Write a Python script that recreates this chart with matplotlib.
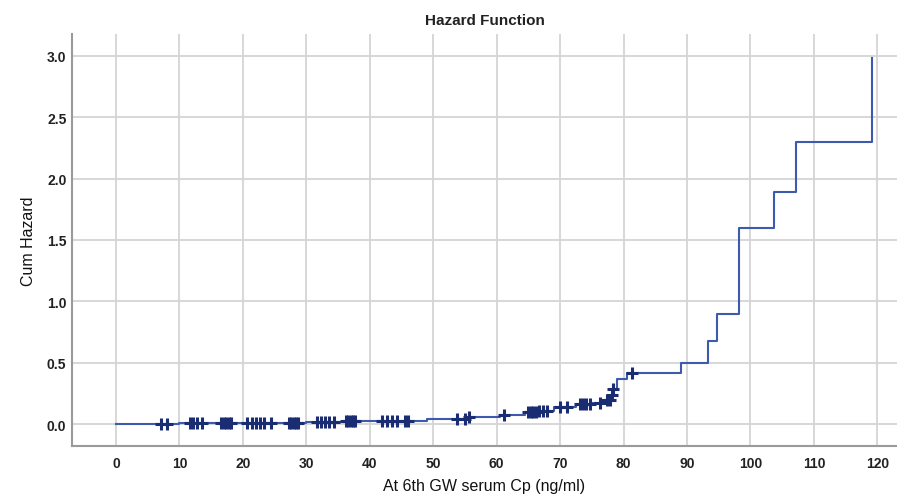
import numpy as np
import matplotlib
matplotlib.use("Agg")
import matplotlib.pyplot as plt

plt.rcParams['font.family'] = ['Liberation Sans', 'DejaVu Sans']

# event times and cumulative hazard after each event
event_times = [0.0, 10.0, 20.0, 30.0, 36.0, 49.0, 55.5, 60.5, 64.5, 66.5,
               69.0, 72.5, 75.0, 77.0, 78.0, 78.3, 78.9, 80.5, 89.1, 93.3,
               94.7, 98.2, 103.7, 107.2, 119.2]
cum_hazard = [0.0, 0.005, 0.010, 0.015, 0.025, 0.045, 0.055, 0.075, 0.095, 0.11,
              0.135, 0.16, 0.175, 0.195, 0.24, 0.285, 0.367, 0.415, 0.495, 0.68,
              0.90, 1.597, 1.888, 2.296, 2.983]

# censored observations
censor_times = [7.1, 8.0, 11.6, 12.2, 12.8, 13.5, 16.6, 17.0, 17.4, 17.8, 18.1,
                20.6, 21.4, 22.0, 22.7, 23.3, 24.5, 27.2, 27.6, 28.0, 28.4, 28.7,
                31.6, 32.3, 33.0, 33.6, 34.3, 36.2, 36.6, 37.0, 37.4, 37.7,
                41.9, 42.7, 43.5, 44.3, 45.6, 46.0, 53.7, 55.0, 55.6, 61.1,
                65.0, 65.4, 65.8, 66.2, 66.7, 67.3, 68.0, 70.0, 71.1,
                73.2, 73.6, 74.0, 74.7, 76.3, 77.4, 77.9, 78.1, 78.3, 81.4]

xticks = list(range(0, 121, 10))
yticks = [0.0, 0.5, 1.0, 1.5, 2.0, 2.5, 3.0]

et = np.array(event_times)
ch = np.array(cum_hazard)
ct = np.array(censor_times)
cy = ch[np.searchsorted(et, ct, side='right') - 1]

fig = plt.figure(figsize=(8.97, 5.02), dpi=100)
ax = fig.add_axes([0.0803, 0.1096, 0.9197, 0.8204])

ax.step(et, ch, where='post', color='#3d5aad', lw=1.5, zorder=3)
ax.plot(ct, cy, ls='none', marker='+', ms=9, mew=2.2, color='#1b2d72', zorder=4)

ax.set_xlim(-6.94, 123.1)
ax.set_ylim(-0.179, 3.178)
ax.set_xticks(xticks)
ax.set_yticks(yticks)
ax.set_yticklabels([f"{v:.1f}" for v in yticks])
ax.grid(True, color='#d4d4d4', lw=1.3)
ax.set_axisbelow(True)
for s in ['top', 'right']:
    ax.spines[s].set_visible(False)
for s in ['left', 'bottom']:
    ax.spines[s].set_color('#9a9a9a')
    ax.spines[s].set_linewidth(1.5)
ax.tick_params(axis='y', length=0, pad=4, labelsize=10, colors='#222222')
ax.tick_params(axis='x', length=0, pad=7, labelsize=10, colors='#222222')
for lab in ax.get_xticklabels() + ax.get_yticklabels():
    lab.set_fontweight('bold')

ax.set_title('Hazard Function', fontsize=11, fontweight='bold', pad=7, color='#222222')
ax.set_xlabel('At 6th GW serum Cp (ng/ml)', fontsize=11.5, labelpad=6, color='#111111')
ax.set_ylabel('Cum Hazard', fontsize=11.5, labelpad=8, color='#111111')

fig.savefig('out.png', dpi=100)
